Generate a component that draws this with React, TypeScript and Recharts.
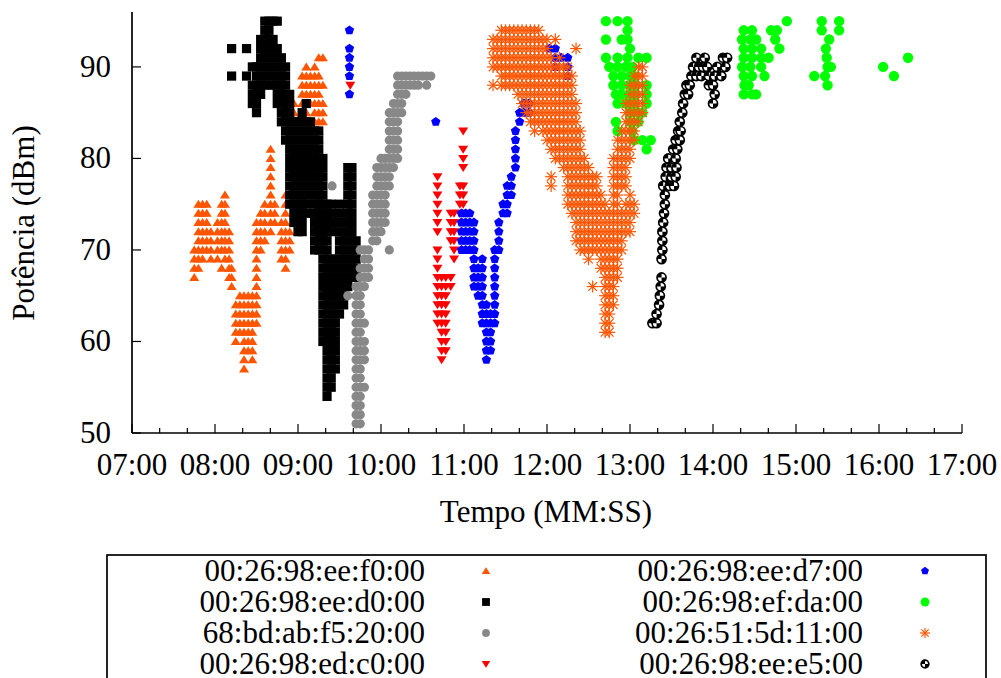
import React from 'react';
import { ScatterChart, Scatter, XAxis, YAxis } from 'recharts';

type Col = [number, number[]];

const hourTicks = [7, 8, 9, 10, 11, 12, 13, 14, 15, 16, 17];
const potTicks = [50, 60, 70, 80, 90];

// 00:26:98:ee:f0:00 (triângulo laranja)
const f0Cols: Col[] = [
  [7.75, [67, 68, 69, 70]],
  [7.8, [68, 69, 70, 71, 72, 73, 74, 75]],
  [7.85, [69, 70, 71, 72, 73, 74, 75]],
  [7.9, [70, 71, 72, 73, 74, 75]],
  [7.95, [69, 70, 71, 72]],
  [8.03, [69, 70, 71, 72, 73]],
  [8.08, [68, 70, 71, 72, 73, 74, 75]],
  [8.12, [69, 70, 71, 72, 73, 74, 75, 76]],
  [8.17, [67, 68, 69, 70, 71, 72]],
  [8.2, [66, 67, 68]],
  [8.25, [60, 61, 62, 63, 64]],
  [8.3, [61, 62, 63, 64, 65]],
  [8.35, [57, 58, 59, 60, 61, 62, 63, 64, 65]],
  [8.4, [59, 60, 61, 62, 63, 64, 65]],
  [8.45, [58, 59, 60, 61, 62, 63, 64, 65]],
  [8.5, [62, 63, 64, 65, 66, 67, 68, 69, 70, 71, 72, 73]],
  [8.55, [70, 71, 72, 73, 74]],
  [8.6, [71, 72, 73, 74, 75]],
  [8.67, [72, 73, 74, 75, 76, 77, 78, 79, 80, 81]],
  [8.72, [73, 74, 75]],
  [8.8, [69, 70, 71, 72, 73]],
  [8.85, [68, 69, 70, 71, 72, 73, 74, 75, 76]],
  [8.9, [70, 71, 72]],
  [8.95, [76, 77, 78, 79, 80, 81, 83, 84, 85, 86]],
  [9.05, [84, 85, 86, 87, 88, 89]],
  [9.1, [85, 86, 87, 88, 89, 90]],
  [9.15, [86, 87, 88, 89]],
  [9.2, [83, 84, 85, 86, 87, 88, 89, 90]],
  [9.25, [82, 83, 84, 85, 86, 87, 88, 89, 91]],
  [9.3, [84, 85, 86, 88, 91]],
];

// 00:26:98:ee:d0:00 (quadrado preto)
const d0Cols: Col[] = [
  [8.2, [89, 92]],
  [8.38, [89, 92]],
  [8.45, [86, 87, 88, 90]],
  [8.5, [85, 86, 87, 88, 89, 90]],
  [8.55, [87, 88, 89, 90, 91, 92, 93]],
  [8.6, [88, 89, 90, 91, 92, 93, 94, 95]],
  [8.65, [89, 90, 91, 92, 93, 94, 95]],
  [8.7, [88, 89, 90, 91, 92, 93, 95]],
  [8.75, [86, 87, 88, 89, 90, 91, 92, 95]],
  [8.8, [84, 85, 86, 87, 88, 89, 90, 91]],
  [8.85, [82, 83, 84, 85, 86, 87, 88, 89, 90]],
  [8.9, [75, 76, 77, 78, 79, 80, 81, 82, 83, 84, 85, 86, 87]],
  [8.95, [73, 74, 75, 76, 77, 78, 79, 80, 81, 82, 83, 84]],
  [9.0, [72, 73, 74, 75, 76, 77, 78, 79, 80, 81, 82, 83, 84]],
  [9.05, [72, 73, 74, 75, 76, 77, 78, 79, 80, 81, 82, 83, 84, 85]],
  [9.1, [74, 75, 76, 77, 78, 79, 80, 81, 82, 83, 84, 86]],
  [9.15, [76, 77, 78, 79, 80, 81, 82, 83, 84]],
  [9.2, [70, 71, 72, 73, 74, 75, 76, 77, 78, 79, 80, 81, 82, 83]],
  [9.25, [70, 71, 72, 73, 74, 75, 76, 77, 78, 79, 80, 81, 82, 83]],
  [9.3, [60, 61, 62, 63, 64, 65, 66, 67, 68, 69, 70, 71, 72, 73, 74, 75, 76, 77, 78, 79, 80]],
  [9.35, [54, 55, 56, 57, 58, 59, 60, 61, 62, 63, 64, 65, 66, 67, 68, 69, 70, 71, 72, 73, 74, 75]],
  [9.4, [55, 56, 57, 58, 59, 60, 61, 62, 63, 64, 65, 66, 67, 68, 69, 72, 73, 74, 75]],
  [9.45, [57, 58, 59, 60, 61, 62, 63, 64, 65, 66, 67, 68, 69]],
  [9.5, [63, 64, 65, 66, 67, 68, 69, 70, 71, 72, 73, 74, 75]],
  [9.55, [64, 65, 66, 67, 68, 69, 70, 71]],
  [9.6, [66, 67, 68, 69, 70, 71, 72, 73, 74, 75, 76, 77, 78, 79]],
  [9.65, [67, 68, 69, 70, 71, 72, 73, 74, 75, 76, 77, 78, 79]],
  [9.7, [67, 68, 69, 70, 71]],
];

// 68:bd:ab:f5:20:00 (círculo cinza)
const f520Cols: Col[] = [
  [9.41, [77]],
  [9.6, [65]],
  [9.7, [51, 52, 53, 54, 55, 56, 57, 58, 59, 60, 61, 62, 63, 64, 65, 66]],
  [9.75, [51, 52, 53, 54, 55, 56, 57, 58, 59, 60, 61, 62, 63, 64, 65, 66, 67, 68, 70]],
  [9.8, [55, 58, 59, 60, 62, 66, 67, 68, 69, 70]],
  [9.85, [67, 68, 69, 70]],
  [9.9, [71, 72, 73, 74, 75, 76]],
  [9.95, [71, 72, 73, 74, 75, 76, 77, 78, 79]],
  [10.0, [72, 73, 74, 75, 76, 77, 78, 79, 80]],
  [10.05, [73, 74, 75, 76, 77, 78, 79, 80]],
  [10.1, [70, 77, 78, 79, 80, 81, 82, 83, 84, 85]],
  [10.15, [79, 80, 81, 82, 83, 84, 85, 86]],
  [10.2, [80, 81, 82, 83, 84, 85, 86, 87, 88, 89]],
  [10.25, [85, 86, 87, 88, 89]],
  [10.3, [87, 88, 89]],
  [10.35, [88, 89]],
  [10.4, [88, 89]],
  [10.45, [88, 89]],
  [10.5, [89]],
  [10.55, [88, 89]],
  [10.6, [89]],
];

// 00:26:98:ed:c0:00 (triângulo vermelho invertido)
const c0Cols: Col[] = [
  [9.63, [88]],
  [10.68, [62, 63, 64, 65, 66, 67, 68, 69, 70, 72, 73, 74, 75, 76, 77, 78]],
  [10.73, [58, 59, 60, 61, 62, 63, 64, 65, 66, 67]],
  [10.78, [59, 60, 61, 62, 63, 64, 65, 66, 67]],
  [10.84, [66, 67, 71, 72, 73, 74]],
  [10.88, [69, 70, 71, 72, 73, 74]],
  [10.95, [74, 75, 76, 77]],
  [10.99, [75, 76, 77, 79, 80, 81, 83]],
];

// 00:26:98:ee:d7:00 (pentágono azul)
const d7Cols: Col[] = [
  [9.62, [87, 89, 90, 91, 92, 94]],
  [10.66, [84]],
  [10.97, [70, 71, 72, 73, 74]],
  [11.02, [70, 71, 72, 73, 74]],
  [11.07, [70, 71, 72, 73, 74]],
  [11.12, [66, 67, 68, 69, 70, 71, 72, 73]],
  [11.17, [65, 66, 67, 68]],
  [11.22, [62, 63, 64, 65, 66, 67, 68, 69]],
  [11.27, [58, 59, 60, 61, 62, 63, 64]],
  [11.32, [59, 60, 61, 62, 63]],
  [11.37, [62, 63, 64, 65, 66, 67, 68, 69, 70]],
  [11.42, [70, 71, 72, 73]],
  [11.47, [74, 75]],
  [11.52, [74, 75, 76, 77]],
  [11.57, [76, 77, 78]],
  [11.62, [79, 80, 81, 82, 83]],
  [11.67, [84, 85]],
  [11.72, [85, 86]],
  [11.78, [85, 86]],
  [12.03, [92]],
  [12.1, [90, 91, 92]],
  [12.17, [91]],
  [12.25, [89, 90, 91]],
];

// 00:26:98:ef:da:00 (círculo verde)
const daCols: Col[] = [
  [12.71, [91, 93, 95]],
  [12.75, [90]],
  [12.8, [88, 89]],
  [12.83, [84, 87]],
  [12.85, [83, 86, 90, 91, 95]],
  [12.9, [87, 88, 89, 93]],
  [12.95, [86, 90]],
  [12.97, [91, 93, 94, 95]],
  [13.0, [84, 85, 87, 88, 89, 92]],
  [13.03, [83, 90]],
  [13.05, [82, 86, 89]],
  [13.07, [87, 88]],
  [13.1, [84, 85, 91]],
  [13.15, [82, 85]],
  [13.2, [81, 86, 87, 88, 91]],
  [13.25, [82]],
  [14.35, [90, 93]],
  [14.37, [87, 89, 91, 92, 94]],
  [14.38, [88]],
  [14.43, [88]],
  [14.45, [90, 93]],
  [14.47, [87, 89, 91, 92, 94]],
  [14.52, [87, 93]],
  [14.58, [90, 91, 92]],
  [14.62, [89]],
  [14.67, [91]],
  [14.7, [94]],
  [14.75, [93]],
  [14.77, [94]],
  [14.8, [92]],
  [14.89, [95]],
  [15.22, [89]],
  [15.31, [94, 95]],
  [15.35, [89]],
  [15.36, [92]],
  [15.37, [91]],
  [15.38, [88, 90]],
  [15.4, [93]],
  [15.42, [90]],
  [15.52, [94, 95]],
  [16.05, [90]],
  [16.18, [89]],
  [16.35, [91]],
];

// 00:26:51:5d:11:00 (asterisco laranja)
const s11Cols: Col[] = [
  [11.35, [88, 90, 91, 92, 93]],
  [11.4, [90, 91, 92, 93]],
  [11.45, [88, 89, 90, 91, 92, 93, 94]],
  [11.5, [88, 89, 90, 91, 92, 93, 94]],
  [11.55, [88, 89, 90, 91, 92, 93, 94]],
  [11.6, [88, 89, 90, 91, 92, 93, 94]],
  [11.65, [87, 88, 89, 90, 91, 92, 93, 94]],
  [11.7, [86, 87, 88, 89, 90, 91, 92, 93, 94]],
  [11.75, [85, 86, 87, 88, 89, 90, 91, 92, 93, 94]],
  [11.8, [84, 85, 86, 87, 88, 89, 90, 91, 92, 93, 94]],
  [11.85, [83, 84, 85, 86, 87, 88, 89, 90, 91, 92, 93, 94]],
  [11.9, [84, 85, 86, 87, 88, 89, 90, 91, 92, 93, 94]],
  [11.95, [83, 84, 85, 86, 87, 88, 89, 90, 91, 92, 93]],
  [12.0, [82, 83, 84, 85, 86, 87, 88, 89, 90, 91, 92, 93]],
  [12.05, [77, 78, 81, 82, 83, 84, 85, 86, 87, 88, 89, 90, 91]],
  [12.1, [80, 81, 82, 83, 84, 85, 86, 87, 88, 89, 90, 93]],
  [12.15, [80, 81, 82, 83, 84, 85, 86, 87, 88, 89, 90, 91]],
  [12.2, [79, 80, 81, 82, 83, 84, 85, 86, 87, 88, 89, 90]],
  [12.25, [75, 76, 77, 78, 79, 80, 81, 82, 83, 84, 85, 86, 87, 88, 89, 90]],
  [12.3, [74, 75, 76, 77, 78, 79, 80, 81, 82, 83, 84, 85, 86, 87, 88, 89]],
  [12.35, [71, 72, 73, 74, 75, 76, 77, 78, 79, 80, 81, 82, 83, 84, 85, 86, 92]],
  [12.4, [70, 71, 72, 73, 74, 75, 76, 77, 78, 79, 80, 81, 82, 83]],
  [12.45, [70, 71, 72, 73, 74, 75, 76, 77, 78, 79, 80]],
  [12.5, [69, 70, 71, 72, 73, 74, 75, 76, 77, 78, 79]],
  [12.55, [66, 70, 71, 72, 73, 74, 75, 76, 77, 78]],
  [12.6, [70, 71, 72, 73, 74, 75, 76, 77, 78]],
  [12.65, [68, 69, 70, 71, 72, 73, 74, 75, 76]],
  [12.7, [61, 62, 63, 64, 65, 66, 67, 68, 69, 70, 71, 72, 73, 74, 75]],
  [12.75, [61, 62, 63, 64, 65, 66, 67, 68, 69, 70, 71, 72, 73, 74]],
  [12.8, [64, 65, 66, 67, 68, 69, 70, 71, 72, 73, 74, 75, 76, 77, 78, 79, 80]],
  [12.85, [67, 68, 69, 70, 71, 72, 73, 74, 75, 76, 77, 78, 79, 80, 81, 82]],
  [12.9, [70, 71, 72, 73, 74, 77, 78, 79, 80, 81, 82, 83]],
  [12.95, [72, 73, 74, 75, 77, 78, 79, 80, 81, 82, 83, 84, 85, 86]],
  [13.0, [72, 73, 74, 75, 76, 80, 81, 82, 83, 84, 85, 86, 87, 88]],
  [13.05, [74, 75, 82, 83, 84, 85, 86, 87, 88, 89]],
  [13.1, [84, 85, 86, 87, 88, 89, 90]],
  [13.15, [85, 86, 87, 88, 89, 90]],
];

// 00:26:98:ee:e5:00 (círculo com quadrantes)
const e5Cols: Col[] = [
  [13.27, [62]], [13.32, [62, 63]], [13.35, [64]], [13.36, [65]], [13.37, [66]],
  [13.38, [67, 69]], [13.39, [70, 71, 72]], [13.4, [73, 77]], [13.41, [74]],
  [13.42, [75, 76]], [13.43, [78]], [13.44, [79]], [13.46, [80]], [13.48, [77]],
  [13.5, [78, 79]], [13.52, [81]], [13.53, [77]], [13.55, [78, 80, 82]], [13.56, [79]],
  [13.57, [81]], [13.58, [83]], [13.6, [82, 84]], [13.61, [83]], [13.63, [85]],
  [13.64, [86]], [13.66, [87]], [13.68, [88]], [13.7, [87]], [13.72, [88]],
  [13.74, [89]], [13.76, [90]], [13.8, [89, 91]], [13.83, [90]], [13.86, [89]],
  [13.88, [90]], [13.9, [91]], [13.93, [90]], [13.95, [88, 89]], [14.0, [86, 88]],
  [14.02, [87, 89]], [14.05, [90]], [14.1, [89]], [14.12, [91]], [14.15, [90]], [14.17, [91]],
];

type Kind = 'tri' | 'square' | 'dot' | 'dtri' | 'penta' | 'big' | 'star' | 'ring';

const series: { name: string; cols: Col[]; kind: Kind; color: string }[] = [
  { name: '00:26:98:ee:f0:00', cols: f0Cols, kind: 'tri', color: '#ff5500' },
  { name: '00:26:98:ee:d0:00', cols: d0Cols, kind: 'square', color: '#000000' },
  { name: '68:bd:ab:f5:20:00', cols: f520Cols, kind: 'dot', color: '#888888' },
  { name: '00:26:98:ed:c0:00', cols: c0Cols, kind: 'dtri', color: '#ff0000' },
  { name: '00:26:98:ee:d7:00', cols: d7Cols, kind: 'penta', color: '#0000ff' },
  { name: '00:26:98:ef:da:00', cols: daCols, kind: 'big', color: '#00ff00' },
  { name: '00:26:51:5d:11:00', cols: s11Cols, kind: 'star', color: '#ff5500' },
  { name: '00:26:98:ee:e5:00', cols: e5Cols, kind: 'ring', color: '#000000' },
];

const toPoints = (cols: Col[]) => cols.flatMap(([t, vs]) => vs.map(v => ({ t, v })));

const FONT = '"Liberation Serif", "Times New Roman", serif';

// s = escala do símbolo (legenda usa símbolos um pouco menores)
const Marker = ({ kind, cx, cy, color, s = 1 }: { kind: Kind; cx: number; cy: number; color: string; s?: number }) => {
  switch (kind) {
    case 'tri':
      return <polygon points={`${cx},${cy - 4.5 * s} ${cx + 5 * s},${cy + 3.5 * s} ${cx - 5 * s},${cy + 3.5 * s}`} fill={color} />;
    case 'dtri':
      return <polygon points={`${cx},${cy + 4.5 * s} ${cx + 5 * s},${cy - 3.5 * s} ${cx - 5 * s},${cy - 3.5 * s}`} fill={color} />;
    case 'square':
      return <rect x={cx - 4.6 * s} y={cy - 4.6 * s} width={9.2 * s} height={9.2 * s} fill={color} />;
    case 'dot':
      return <circle cx={cx} cy={cy} r={4.6 * s} fill={color} />;
    case 'big':
      return <circle cx={cx} cy={cy} r={5.2 * s} fill={color} />;
    case 'penta': {
      const r = 4.9 * s;
      const pts = [0, 1, 2, 3, 4]
        .map(i => {
          const a = -Math.PI / 2 + (i * 2 * Math.PI) / 5;
          return `${cx + r * Math.cos(a)},${cy + r * Math.sin(a)}`;
        })
        .join(' ');
      return <polygon points={pts} fill={color} />;
    }
    case 'star': {
      const r = 6 * s;
      const d = 4.3 * s;
      return (
        <g stroke={color} strokeWidth={1.2}>
          <line x1={cx - r} y1={cy} x2={cx + r} y2={cy} />
          <line x1={cx} y1={cy - r} x2={cx} y2={cy + r} />
          <line x1={cx - d} y1={cy - d} x2={cx + d} y2={cy + d} />
          <line x1={cx - d} y1={cy + d} x2={cx + d} y2={cy - d} />
        </g>
      );
    }
    case 'ring':
    default: {
      const r = 4.5 * s;
      return (
        <g>
          <circle cx={cx} cy={cy} r={r} fill="#fff" stroke={color} strokeWidth={1.7} />
          <path d={`M${cx},${cy} L${cx - r},${cy} A${r},${r} 0 0 1 ${cx},${cy - r} Z`} fill={color} />
          <path d={`M${cx},${cy} L${cx + r},${cy} A${r},${r} 0 0 1 ${cx},${cy + r} Z`} fill={color} />
        </g>
      );
    }
  }
};

const isMajor = (v: number) => Math.abs(v - Math.round(v)) < 1e-6;
const fmtHour = (v: number) => `${String(Math.round(v)).padStart(2, '0')}:00`;

const BottomTick = (props: any) => {
  const { x, y, payload } = props;
  const major = isMajor(payload.value);
  return (
    <g>
      <line x1={x} x2={x} y1={y} y2={y - (major ? 9 : 5)} stroke="#000" strokeWidth={1.2} />
      {major && (
        <text x={x} y={y + 42} textAnchor="middle" fontFamily={FONT} fontSize={31} fill="#000">
          {fmtHour(payload.value)}
        </text>
      )}
    </g>
  );
};

const TopTick = (props: any) => {
  const { x, y, payload } = props;
  const major = isMajor(payload.value);
  return <line x1={x} x2={x} y1={y} y2={y + (major ? 9 : 5)} stroke="#000" strokeWidth={1.2} />;
};

const LeftTick = (props: any) => {
  const { x, y, payload } = props;
  return (
    <g>
      <line x1={x} x2={x + 9} y1={y} y2={y} stroke="#000" strokeWidth={1.2} />
      <text x={x - 21} y={y + 10} textAnchor="end" fontFamily={FONT} fontSize={31} fill="#000">
        {payload.value}
      </text>
    </g>
  );
};

const RightTick = (props: any) => {
  const { x, y } = props;
  return <line x1={x} x2={x - 9} y1={y} y2={y} stroke="#000" strokeWidth={1.2} />;
};

const allXTicks = hourTicks.flatMap(h => (h < 17 ? [h, h + 1 / 3, h + 2 / 3] : [h]));

const axisLine = { stroke: '#000', strokeWidth: 1.7 };

export default function App() {
  return (
    <div style={{ position: 'absolute', left: 0, top: 0, width: 1001, height: 678, background: '#fff', overflow: 'hidden' }}>
      <ScatterChart width={1001} height={678} margin={{ top: 12, right: 39, left: 0, bottom: 0 }}>
        <XAxis
          xAxisId={0}
          type="number"
          dataKey="t"
          domain={[7, 17]}
          allowDataOverflow
          ticks={allXTicks}
          interval={0}
          tickSize={0}
          tickMargin={0}
          tickLine={false}
          axisLine={axisLine}
          tick={<BottomTick />}
          height={245}
        />
        <XAxis
          xAxisId="top"
          orientation="top"
          type="number"
          domain={[7, 17]}
          allowDataOverflow
          ticks={allXTicks}
          interval={0}
          tickSize={0}
          tickMargin={0}
          tickLine={false}
          axisLine={axisLine}
          tick={<TopTick />}
          height={0}
        />
        <YAxis
          yAxisId={0}
          type="number"
          dataKey="v"
          domain={[50, 96]}
          allowDataOverflow
          ticks={potTicks}
          interval={0}
          tickSize={0}
          tickMargin={0}
          tickLine={false}
          axisLine={axisLine}
          tick={<LeftTick />}
          width={132}
        />
        <YAxis
          yAxisId="right"
          orientation="right"
          type="number"
          domain={[50, 96]}
          allowDataOverflow
          ticks={potTicks}
          interval={0}
          tickSize={0}
          tickMargin={0}
          tickLine={false}
          axisLine={axisLine}
          tick={<RightTick />}
          width={0}
        />
        {series.map(s => (
          <Scatter
            key={s.name}
            name={s.name}
            data={toPoints(s.cols)}
            xAxisId={0}
            yAxisId={0}
            isAnimationActive={false}
            shape={(p: any) => <Marker kind={s.kind} cx={p.cx} cy={p.cy} color={s.color} />}
          />
        ))}
      </ScatterChart>
      <svg width={1001} height={678} style={{ position: 'absolute', left: 0, top: 0, pointerEvents: 'none' }}>
        <text x={546} y={522} textAnchor="middle" fontFamily={FONT} fontSize={31} fill="#000">
          Tempo (MM:SS)
        </text>
        <text transform="translate(34,223) rotate(-90)" textAnchor="middle" fontFamily={FONT} fontSize={31} fill="#000">
          Potência (dBm)
        </text>
        <rect x={107} y={555} width={879} height={200} fill="none" stroke="#000" strokeWidth={1.7} />
        {series.map((s, i) => {
          const col = i < 4 ? 0 : 1;
          const row = i % 4;
          const textX = col === 0 ? 425 : 863;
          const symX = col === 0 ? 486 : 925;
          const cy = 571 + row * 31;
          return (
            <g key={s.name}>
              <text x={textX} y={cy + 10} textAnchor="end" fontFamily={FONT} fontSize={31} fill="#000">
                {s.name}
              </text>
              <Marker kind={s.kind} cx={symX} cy={cy} color={s.color} s={0.85} />
            </g>
          );
        })}
      </svg>
    </div>
  );
}
